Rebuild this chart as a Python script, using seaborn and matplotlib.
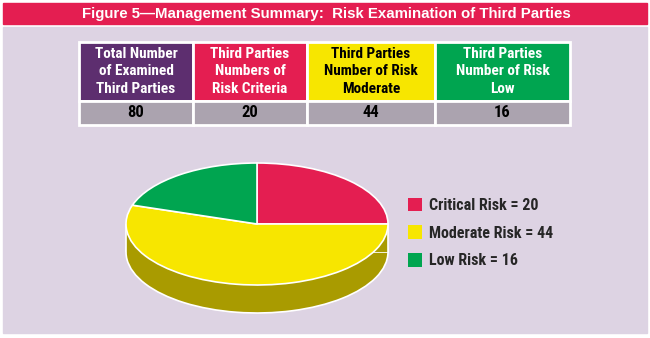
import matplotlib
matplotlib.use("Agg")
import matplotlib.pyplot as plt
from matplotlib.patches import Rectangle, Patch
import seaborn as sns

# ---------------- data ----------------
title = "Figure 5\u2014Management Summary:  Risk Examination of Third Parties"
table_headers = ["Total Number\nof Examined\nThird Parties",
                 "Third Parties\nNumbers of\nRisk Criteria",
                 "Third Parties\nNumber of Risk\nModerate",
                 "Third Parties\nNumber of Risk\nLow"]
table_values = [80, 20, 44, 16]
risk_labels = ["Critical Risk", "Moderate Risk", "Low Risk"]
risk_values = [20, 44, 16]

# ---------------- style ----------------
PURPLE = "#5D2E6F"
RED = "#E41E51"
YELLOW = "#F7E600"
GREEN = "#00A550"
GRAY = "#ABA3AF"
LAVENDER = "#DDD3E3"
header_colors = [PURPLE, RED, YELLOW, GREEN]
header_text_colors = ["white", "white", "black", "white"]
pie_colors = [RED, YELLOW, GREEN]
side_colors = ["#9E1538", "#A99B00", "#00703A"]

sns.set_theme(style="white")
NARROW = ["Roboto Condensed", "DejaVu Sans"]
plt.rcParams["font.family"] = ["Liberation Sans", "DejaVu Sans"]

W, H = 650, 338
fig = plt.figure(figsize=(W / 100, H / 100), dpi=100)
fig.patch.set_facecolor("white")


def fx(x):
    return x / W


def fy(y):
    return 1 - y / H


# background panels
fig.patches.append(Rectangle((fx(3), fy(333)), fx(644), (333 - 27) / H,
                             transform=fig.transFigure, color=LAVENDER, zorder=-2))
fig.patches.append(Rectangle((fx(3), fy(24)), fx(644), (24 - 3) / H,
                             transform=fig.transFigure, color=RED, zorder=-2))
fig.text(fx(326), fy(14), title, ha="center", va="center", color="white",
         fontsize=10.8, fontweight="bold")

# ---------------- table ----------------
tx0, tx1, ty0, ty1 = 79, 570, 42, 125
ax_t = fig.add_axes([fx(tx0), fy(ty1), (tx1 - tx0) / W, (ty1 - ty0) / H])
ax_t.axis("off")
col_w = [114, 114, 128, 135]
tbl = ax_t.table(cellText=[table_headers, [str(v) for v in table_values]],
                 cellColours=[header_colors, [GRAY] * len(table_values)],
                 colWidths=[c / sum(col_w) for c in col_w],
                 cellLoc="center", bbox=[0, 0, 1, 1])
tbl.auto_set_font_size(False)
for (r, c), cell in tbl.get_celld().items():
    cell.set_edgecolor("white")
    cell.set_linewidth(2)
    cell.set_height(58 if r == 0 else 24)
    t = cell.get_text()
    t.set_fontfamily(NARROW)
    t.set_fontweight("bold")
    if r == 0:
        t.set_fontsize(11)
        t.set_color(header_text_colors[c])
        t.set_linespacing(1.3)
    else:
        t.set_fontsize(12)
        t.set_color("black")

# ---------------- 3D-looking pie ----------------
cx, cy, a, b, thick = 257, 224, 131, 61, 28
px0, px1, py0, py1 = 116, 398, 153, 325
ax_p = fig.add_axes([fx(px0), fy(py1), (px1 - px0) / W, (py1 - py0) / H])
t_units = thick / b
edge = dict(edgecolor="white", linewidth=1.2)
ax_p.pie(risk_values, colors=side_colors, startangle=90, counterclock=False,
         center=(0, -t_units), wedgeprops=dict(zorder=1, **edge))
ax_p.fill_between([-1, 1], [-t_units, -t_units], [0, 0],
                  color=side_colors[1], linewidth=0, zorder=2)
ax_p.vlines([-1, 1], -t_units, 0, colors="white", linewidth=1.2, zorder=2.5)
wedges, _ = ax_p.pie(risk_values, colors=pie_colors, startangle=90,
                     counterclock=False, wedgeprops=dict(zorder=3, **edge))
ax_p.set_aspect("auto")
ax_p.set_xlim((px0 - cx) / a, (px1 - cx) / a)
ax_p.set_ylim((cy - py1) / b, (cy - py0) / b)
ax_p.axis("off")

# ---------------- legend ----------------
handles = [Patch(facecolor=c, edgecolor="none") for c in pie_colors]
labels = [f"{n} = {v}" for n, v in zip(risk_labels, risk_values)]
fig.legend(handles, labels, loc="center left",
           bbox_to_anchor=(fx(408), fy(233)), bbox_transform=fig.transFigure,
           frameon=False, borderpad=0, borderaxespad=0,
           handlelength=0.9, handleheight=0.9, handletextpad=0.4,
           labelspacing=0.8,
           prop=dict(family=NARROW, weight="bold", size=11.5))

fig.savefig("out.png", dpi=100, facecolor="white")
